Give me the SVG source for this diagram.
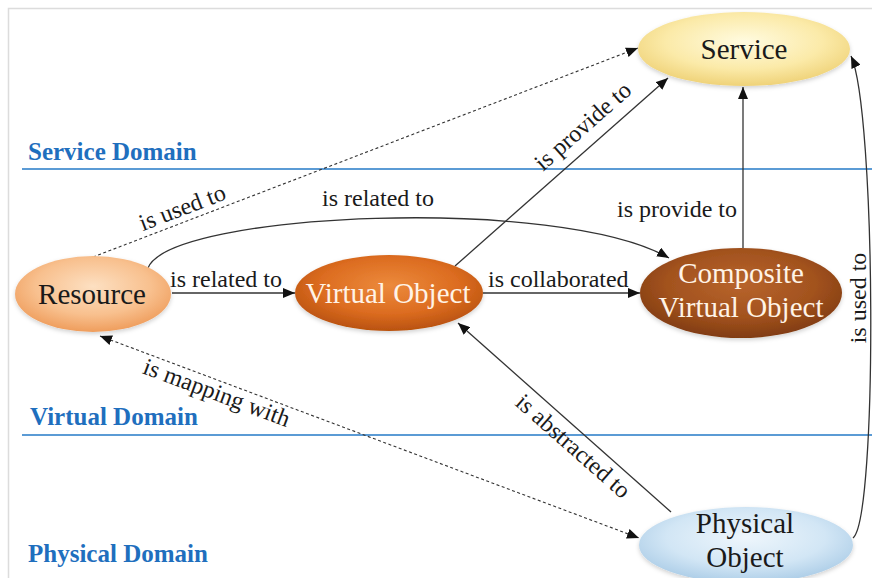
<svg xmlns="http://www.w3.org/2000/svg" width="872" height="578" viewBox="0 0 872 578">
  <style>
    .frame { fill: none; stroke: #dcdcdc; stroke-width: 1.5; }
    .domain-line { stroke: #5b9bd5; stroke-width: 2; }
    .domain-label { font-family: "Liberation Serif", serif; font-weight: bold; font-size: 25px; fill: #1f6fbe; }
    .edge { fill: none; stroke: #333; stroke-width: 1.3; }
    .dashed { stroke-dasharray: 3 2.5; stroke-width: 1.1; }
    .edge-label { font-family: "Liberation Serif", serif; font-size: 24px; fill: #1a1a1a; }
    .node-label { font-family: "Liberation Serif", serif; font-size: 29px; text-anchor: middle; }
    .dark { fill: #1a1a1a; }
    .light { fill: #fff3e6; }
  </style>
  <defs>
    <marker id="arrow" viewBox="0 0 12 10" refX="12" refY="5" markerWidth="12" markerHeight="10" markerUnits="userSpaceOnUse" orient="auto-start-reverse">
      <path d="M0,0 L12,5 L0,10 z" fill="#111"/>
    </marker>
    <radialGradient id="gService" cx="50%" cy="40%" r="62%">
      <stop offset="0" stop-color="#fffbe0"/>
      <stop offset="0.6" stop-color="#fbeaa8"/>
      <stop offset="1" stop-color="#eed074"/>
    </radialGradient>
    <radialGradient id="gResource" cx="50%" cy="40%" r="62%">
      <stop offset="0" stop-color="#fde0c2"/>
      <stop offset="0.6" stop-color="#f8c08e"/>
      <stop offset="1" stop-color="#ee9a58"/>
    </radialGradient>
    <radialGradient id="gVirtual" cx="50%" cy="40%" r="62%">
      <stop offset="0" stop-color="#ec8a3c"/>
      <stop offset="0.6" stop-color="#dc6c20"/>
      <stop offset="1" stop-color="#b6500e"/>
    </radialGradient>
    <radialGradient id="gComposite" cx="50%" cy="40%" r="62%">
      <stop offset="0" stop-color="#b8642c"/>
      <stop offset="0.6" stop-color="#a2521e"/>
      <stop offset="1" stop-color="#7e3a10"/>
    </radialGradient>
    <radialGradient id="gPhysical" cx="50%" cy="40%" r="62%">
      <stop offset="0" stop-color="#eef6fc"/>
      <stop offset="0.6" stop-color="#d2e6f5"/>
      <stop offset="1" stop-color="#a9cbe6"/>
    </radialGradient>
    <filter id="soft" x="-20%" y="-20%" width="140%" height="150%">
      <feDropShadow dx="0" dy="2" stdDeviation="2" flood-color="#000" flood-opacity="0.18"/>
    </filter>
  </defs>

  <rect width="872" height="578" fill="#fff"/>
  <path class="frame" d="M8.5,578 V8.5 H872"/>

  <!-- domain separators -->
  <g id="domains">
    <line class="domain-line" x1="22" y1="169" x2="872" y2="169"/>
    <line class="domain-line" x1="22" y1="435" x2="872" y2="435"/>
    <text class="domain-label" x="28" y="160">Service Domain</text>
    <text class="domain-label" x="30" y="425">Virtual Domain</text>
    <text class="domain-label" x="28" y="562">Physical Domain</text>
  </g>

  <g id="connectors">
    <!-- Resource -> Service -->
    <line class="edge dashed" x1="93" y1="257" x2="638" y2="48" marker-end="url(#arrow)"/>
    <text class="edge-label" text-anchor="middle" transform="translate(185,215) rotate(-21)">is used to</text>
    <!-- Resource -> Composite (curved) -->
    <path class="edge" d="M148,268 C170,212 560,195 669,258" marker-end="url(#arrow)"/>
    <text class="edge-label" x="322" y="206">is related to</text>
    <!-- Resource -> Virtual Object -->
    <line class="edge" x1="172" y1="293" x2="295" y2="293" marker-end="url(#arrow)"/>
    <text class="edge-label" x="170" y="287">is related to</text>
    <!-- Virtual Object -> Composite -->
    <line class="edge" x1="483" y1="293" x2="640" y2="293" marker-end="url(#arrow)"/>
    <text class="edge-label" x="488" y="287">is collaborated</text>
    <!-- Virtual Object -> Service -->
    <line class="edge" x1="455" y1="266" x2="668" y2="78" marker-end="url(#arrow)"/>
    <text class="edge-label" text-anchor="middle" transform="translate(588,132) rotate(-41.4)">is provide to</text>
    <!-- Composite -> Service -->
    <line class="edge" x1="743" y1="248" x2="743" y2="87" marker-end="url(#arrow)"/>
    <text class="edge-label" x="617" y="217">is provide to</text>
    <!-- Physical Object -> Virtual Object -->
    <line class="edge" x1="671" y1="512" x2="458" y2="323" marker-end="url(#arrow)"/>
    <text class="edge-label" text-anchor="middle" transform="translate(568,452) rotate(41.4)">is abstracted to</text>
    <!-- Resource <-> Physical Object -->
    <line class="edge dashed" x1="100" y1="336" x2="639" y2="538" marker-start="url(#arrow)" marker-end="url(#arrow)"/>
    <text class="edge-label" text-anchor="middle" transform="translate(214,400) rotate(20.5)">is mapping with</text>
    <!-- Physical Object -> Service (right side) -->
    <path class="edge" d="M853,538 C878,518 876,110 851,56" marker-end="url(#arrow)"/>
    <text class="edge-label" text-anchor="middle" transform="translate(866,298) rotate(-90)">is used to</text>
  </g>

  <g id="service">
    <ellipse cx="744" cy="49" rx="106" ry="37" fill="url(#gService)" filter="url(#soft)"/>
    <text class="node-label dark" x="744" y="59">Service</text>
  </g>

  <g id="resource">
    <ellipse cx="93" cy="294" rx="78" ry="38" fill="url(#gResource)" filter="url(#soft)"/>
    <text class="node-label dark" x="92" y="304">Resource</text>
  </g>

  <g id="virtual-object">
    <ellipse cx="389" cy="293" rx="94" ry="38" fill="url(#gVirtual)" filter="url(#soft)"/>
    <text class="node-label light" x="388" y="303">Virtual Object</text>
  </g>

  <g id="composite-virtual-object">
    <ellipse cx="741" cy="293" rx="101" ry="45" fill="url(#gComposite)" filter="url(#soft)"/>
    <text class="node-label light" x="741" y="283">Composite</text>
    <text class="node-label light" x="741" y="317">Virtual Object</text>
  </g>

  <g id="physical-object">
    <ellipse cx="746" cy="545" rx="107" ry="38" fill="url(#gPhysical)" filter="url(#soft)"/>
    <text class="node-label dark" x="745" y="533">Physical</text>
    <text class="node-label dark" x="745" y="567">Object</text>
  </g>
</svg>
